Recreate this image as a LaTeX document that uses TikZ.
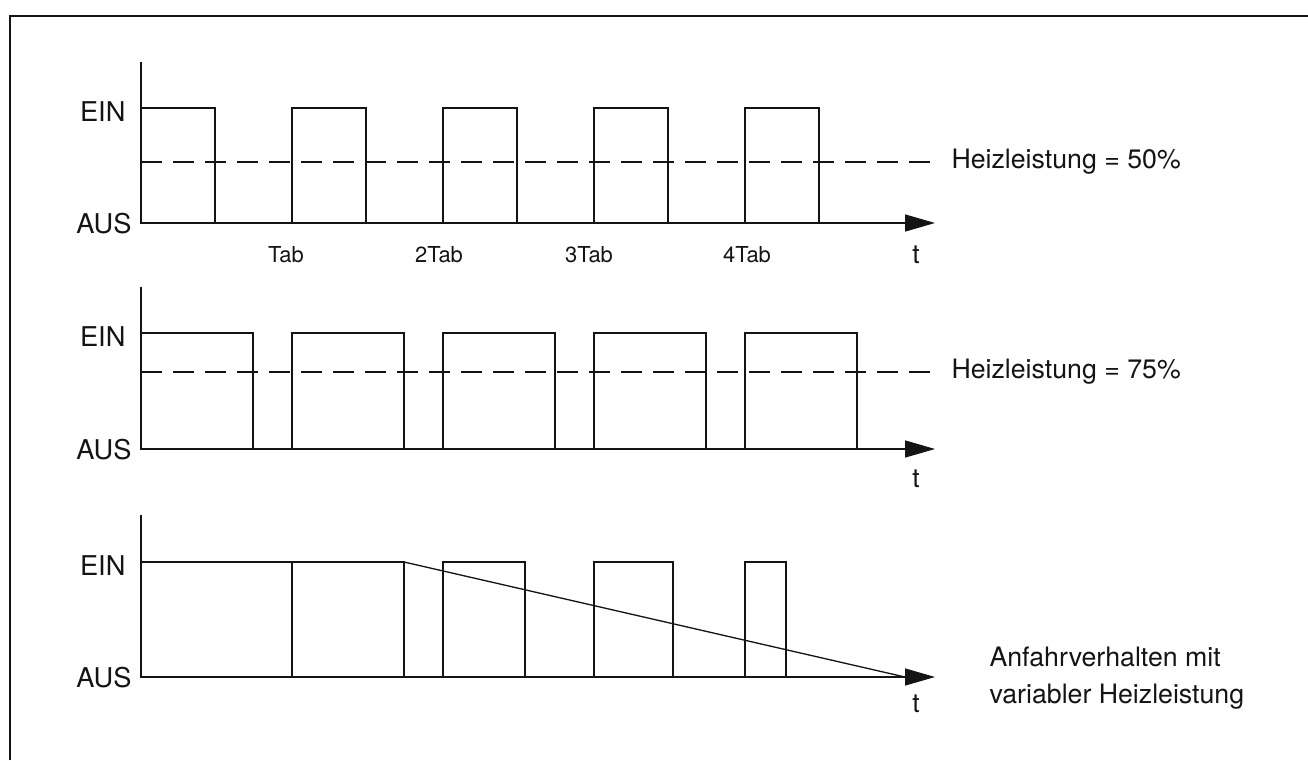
\documentclass[tikz,border=0pt]{standalone}
\usepackage{fontspec}
\setmainfont{TeX Gyre Heros}
\usetikzlibrary{arrows.meta}
\definecolor{linie}{RGB}{20,20,20}

\begin{document}
\begin{tikzpicture}[linie, line width=0.75pt,
    achse/.style={-{Triangle[length=0.6cm,width=0.34cm]}},
    mittel/.style={dash pattern=on 0.42cm off 0.22cm},
    pegel/.style={anchor=east, font=\fontsize{15.5}{18}\selectfont},
    takt/.style={font=\fontsize{12.5}{14}\selectfont},
    zeit/.style={font=\fontsize{15}{16}\selectfont},
    info/.style={anchor=west, align=left, font=\fontsize{15.2}{21}\selectfont}]

    \useasboundingbox (0,0) rectangle (26.16,15.2);

    % Rahmen (nur oben und links sichtbar)
    \draw[line width=1.7pt] (0.2,0) -- (0.2,14.88) -- (26.16,14.88);

    % --- Heizleistung 50% ---
    \draw (2.82,13.96) -- (2.82,10.74);
    \draw[achse] (2.82,10.74) -- (18.7,10.74);
    \foreach \x in {2.82,5.84,8.86,11.88,14.90}
        \draw (\x,10.74) rectangle ++(1.48,2.30);
    \draw[mittel] (2.82,11.96) -- (18.66,11.96);
    \node[pegel] (ein1) at (2.64,12.96) {EIN};
    \node[pegel] (aus1) at (2.76,10.72) {AUS};
    \node[takt] (tab1) at (5.72,10.1) {Tab};
    \node[takt] (tab2) at (8.78,10.1) {2Tab};
    \node[takt] (tab3) at (11.78,10.1) {3Tab};
    \node[takt] (tab4) at (14.94,10.1) {4Tab};
    \node[zeit] (t1) at (18.32,10.1) {t};
    \node[info] (hl1) at (18.9,11.96) {Heizleistung = 50\%};

    % --- Heizleistung 75% ---
    \draw (2.82,9.46) -- (2.82,6.22);
    \draw[achse] (2.82,6.22) -- (18.7,6.22);
    \foreach \x in {2.82,5.84,8.86,11.88,14.90}
        \draw (\x,6.22) rectangle ++(2.24,2.32);
    \draw[mittel] (2.82,7.76) -- (18.66,7.76);
    \node[pegel] (ein2) at (2.64,8.46) {EIN};
    \node[pegel] (aus2) at (2.76,6.2) {AUS};
    \node[zeit] (t2) at (18.32,5.62) {t};
    \node[info] (hl2) at (18.9,7.76) {Heizleistung = 75\%};

    % --- Anfahrverhalten ---
    \draw (2.82,4.9) -- (2.82,1.66);
    \draw[achse] (2.82,1.66) -- (18.7,1.66);
    \foreach \x/\w in {2.82/3.02,5.84/2.24,8.86/1.64,11.88/1.58,14.90/0.82}
        \draw (\x,1.66) rectangle ++(\w,2.30);
    \draw (8.08,3.96) -- (18.1,1.66);
    \node[pegel] (ein3) at (2.64,3.88) {EIN};
    \node[pegel] (aus3) at (2.76,1.64) {AUS};
    \node[zeit] (t3) at (18.32,1.12) {t};
    \node[info] (anf) at (19.66,1.63) {Anfahrverhalten mit\\variabler Heizleistung};

\end{tikzpicture}
\end{document}
